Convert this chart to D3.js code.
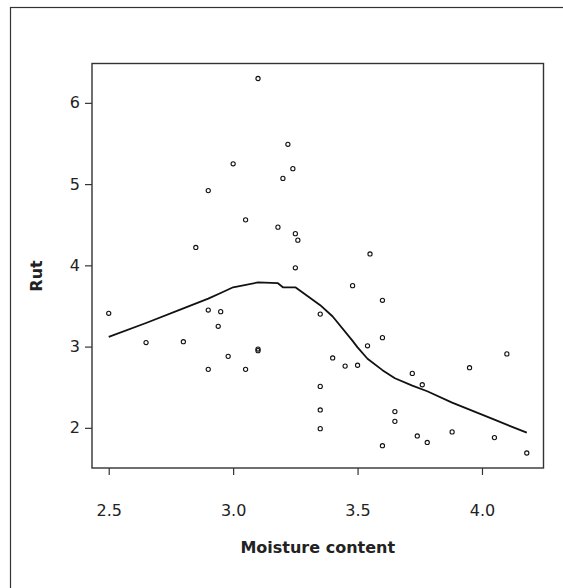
<!DOCTYPE html>
<html>
<head>
<meta charset="utf-8">
<script src="https://cdn.jsdelivr.net/npm/d3@7"></script>
<style>
  html, body { margin: 0; padding: 0; background: #fff; }
  svg { display: block; }
  text { font-family: "DejaVu Sans", Verdana, sans-serif; fill: #222; }
</style>
</head>
<body>
<svg id="chart" width="563" height="588"></svg>
<script>
// Observed moisture content and rut depth
const moisture = [
  3.10, 3.22, 3.00, 3.24, 3.20, 2.90, 3.05, 3.18, 3.25, 3.26, 2.85,
  3.55, 3.25, 2.50, 2.90, 2.95, 2.94, 2.65, 2.80, 3.10, 3.10, 2.98,
  2.90, 3.05, 3.48, 3.60, 3.35, 3.60, 3.54, 3.40, 3.45, 3.50, 3.72,
  3.95, 4.10, 3.76, 3.35, 3.35, 3.35, 3.65, 3.65, 3.88, 3.74, 3.78,
  3.60, 4.05, 4.18
];
const rut = [
  6.30, 5.49, 5.25, 5.19, 5.07, 4.92, 4.56, 4.47, 4.39, 4.31, 4.22,
  4.14, 3.97, 3.41, 3.45, 3.43, 3.25, 3.05, 3.06, 2.97, 2.95, 2.88,
  2.72, 2.72, 3.75, 3.57, 3.40, 3.11, 3.01, 2.86, 2.76, 2.77, 2.67,
  2.74, 2.91, 2.53, 2.51, 2.22, 1.99, 2.20, 2.08, 1.95, 1.90, 1.82,
  1.78, 1.88, 1.69
];

// Smoothed trend through the scatter
const smoothX = [2.50, 2.65, 2.80, 2.90, 2.95, 3.00, 3.10, 3.18, 3.20, 3.25,
                 3.35, 3.40, 3.48, 3.50, 3.54, 3.60, 3.65, 3.72, 3.78, 3.88, 4.05, 4.18];
const smoothY = [3.12, 3.29, 3.47, 3.59, 3.66, 3.73, 3.79, 3.78, 3.73, 3.73,
                 3.51, 3.37, 3.07, 2.99, 2.85, 2.71, 2.61, 2.52, 2.45, 2.31, 2.10, 1.94];

const xTicks = [2.5, 3.0, 3.5, 4.0];
const yTicks = [2, 3, 4, 5, 6];
const xTitle = "Moisture content";
const yTitle = "Rut";

const svg = d3.select("#chart");
const box = { left: 92, top: 63.5, right: 543.5, bottom: 468 };

// Domains padded by 4% of the data range on each side
const pad = (lo, hi) => [lo - (hi - lo) * 0.04, hi + (hi - lo) * 0.04];
const x = d3.scaleLinear().domain(pad(d3.min(moisture), d3.max(moisture)))
  .range([box.left, box.right]);
const y = d3.scaleLinear().domain(pad(d3.min(rut), d3.max(rut)))
  .range([box.bottom, box.top]);

// Outer frame
svg.append("rect")
  .attr("x", 10.5).attr("y", 7.5).attr("width", 700).attr("height", 700)
  .attr("fill", "none").attr("stroke", "#333").attr("stroke-width", 1.2);

// Axes
const xAxis = d3.axisBottom(x).tickValues(xTicks).tickFormat(d3.format(".1f"))
  .tickSizeInner(7).tickSizeOuter(0).tickPadding(30);
const yAxis = d3.axisLeft(y).tickValues(yTicks).tickFormat(d3.format("d"))
  .tickSizeInner(7).tickSizeOuter(0).tickPadding(5);

const gx = svg.append("g").attr("transform", `translate(0,${box.bottom})`).call(xAxis);
const gy = svg.append("g").attr("transform", `translate(${box.left},0)`).call(yAxis);
[gx, gy].forEach(g => {
  g.select(".domain").remove();
  g.selectAll(".tick line").attr("stroke", "#333").attr("stroke-width", 1.2);
  g.selectAll(".tick text")
    .style("font-family", "'DejaVu Sans', Verdana, sans-serif")
    .style("font-size", "16px").attr("fill", "#222");
});

// Plot box
svg.append("rect")
  .attr("x", box.left).attr("y", box.top)
  .attr("width", box.right - box.left).attr("height", box.bottom - box.top)
  .attr("fill", "none").attr("stroke", "#333").attr("stroke-width", 1.4);

// Scatter points
svg.append("g").selectAll("circle")
  .data(moisture.map((m, i) => [m, rut[i]]))
  .join("circle")
  .attr("cx", d => x(d[0])).attr("cy", d => y(d[1]))
  .attr("r", 2.1)
  .attr("fill", "none").attr("stroke", "#111").attr("stroke-width", 1.1);

// Trend line
svg.append("path")
  .datum(smoothX.map((v, i) => [v, smoothY[i]]))
  .attr("d", d3.line().x(d => x(d[0])).y(d => y(d[1])))
  .attr("fill", "none").attr("stroke", "#111").attr("stroke-width", 1.8)
  .attr("stroke-linejoin", "round");

// Axis titles
svg.append("text")
  .attr("x", (box.left + box.right) / 2).attr("y", 553)
  .attr("text-anchor", "middle")
  .style("font-size", "16px").style("font-weight", "bold")
  .text(xTitle);

svg.append("text")
  .attr("transform", "translate(36.5,276) rotate(-90)")
  .attr("text-anchor", "middle").attr("dominant-baseline", "central")
  .style("font-size", "16px").style("font-weight", "bold")
  .text(yTitle);
</script>
</body>
</html>
